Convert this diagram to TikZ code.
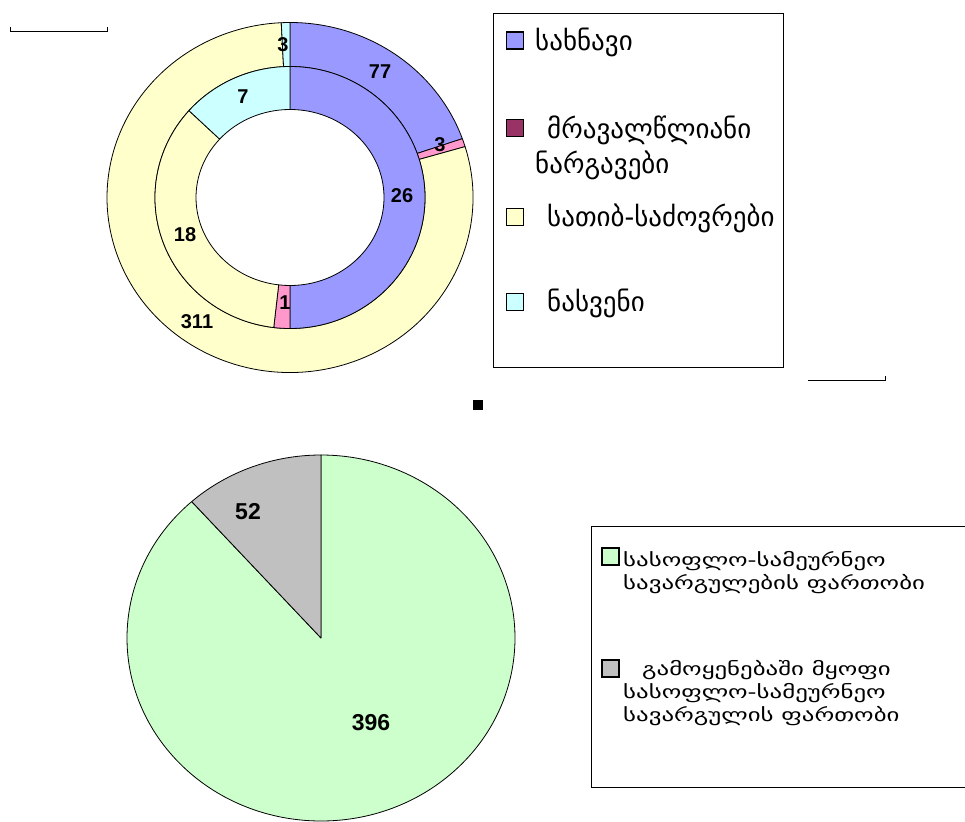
\documentclass[tikz,border=0pt]{standalone}
\usepackage{fontspec}
\setmainfont{Liberation Sans}
\newfontfamily\geofont{DejaVu Sans}
\newfontfamily\geowidefont[FakeStretch=1.38]{DejaVu Sans}
\definecolor{arable}{HTML}{9999FF}
\definecolor{perennial}{HTML}{993366}
\definecolor{perennialslice}{HTML}{FF99CC}
\definecolor{meadow}{HTML}{FFFFCC}
\definecolor{fallow}{HTML}{CCFFFF}
\definecolor{farmland}{HTML}{CCFFCC}
\definecolor{inuse}{HTML}{C0C0C0}
\begin{document}
\begin{tikzpicture}[
            x = 1pt, y = 1pt,
            seg/.style = {draw, line width = 0.8pt, line join = round},
            outer/.style = {x radius = 183, y radius = 175},
            mid/.style = {x radius = 135, y radius = 131},
            hole/.style = {x radius = 94, y radius = 88},
            pie/.style = {x radius = 194, y radius = 183},
            key/.style = {draw, line width = 1.2pt, inner sep = 0pt, minimum size = 17pt},
            num/.style = {inner sep = 0pt, font = \fontsize{20}{24}\selectfont\bfseries},
            bignum/.style = {inner sep = 0pt, font = \fontsize{23}{27}\selectfont\bfseries},
            lbl/.style = {anchor = west, align = left, inner sep = 0pt, font = \geofont\fontsize{27}{35}\selectfont},
            lbltight/.style = {lbl, font = \geowidefont\fontsize{18}{23}\selectfont},
        ]
        \useasboundingbox (0,0) rectangle (965,-821);

        % ring chart
        \begin{scope}[shift = {(290,-197.5)}]
            \path[seg, fill = arable] (90:183 and 175) arc[start angle = 90, end angle = 19.645, outer] -- (19.645:135 and 131) arc[start angle = 19.645, end angle = 90, mid] -- cycle;
            \path[seg, fill = perennialslice] (19.645:183 and 175) arc[start angle = 19.645, end angle = 16.904, outer] -- (16.904:135 and 131) arc[start angle = 16.904, end angle = 19.645, mid] -- cycle;
            \path[seg, fill = meadow] (16.904:183 and 175) arc[start angle = 16.904, end angle = -267.258, outer] -- (-267.258:135 and 131) arc[start angle = -267.258, end angle = 16.904, mid] -- cycle;
            \path[seg, fill = fallow] (-267.258:183 and 175) arc[start angle = -267.258, end angle = -270, outer] -- (-270:135 and 131) arc[start angle = -270, end angle = -267.258, mid] -- cycle;

            \path[seg, fill = arable] (90:135 and 131) arc[start angle = 90, end angle = -90, mid] -- (-90:94 and 88) arc[start angle = -90, end angle = 90, hole] -- cycle;
            \path[seg, fill = perennialslice] (-90:135 and 131) arc[start angle = -90, end angle = -96.923, mid] -- (-96.923:94 and 88) arc[start angle = -96.923, end angle = -90, hole] -- cycle;
            \path[seg, fill = meadow] (-96.923:135 and 131) arc[start angle = -96.923, end angle = -221.538, mid] -- (-221.538:94 and 88) arc[start angle = -221.538, end angle = -96.923, hole] -- cycle;
            \path[seg, fill = fallow] (-221.538:135 and 131) arc[start angle = -221.538, end angle = -270, mid] -- (-270:94 and 88) arc[start angle = -270, end angle = -221.538, hole] -- cycle;
        \end{scope}

        \node (v77) [num] at (380,-72) {77};
        \node (v3a) [num] at (283,-45) {3};
        \node (v3b) [num] at (440,-145) {3};
        \node (v311) [num] at (197,-322) {311};
        \node (v26) [num] at (402,-196) {26};
        \node (v1) [num] at (285,-303) {1};
        \node (v18) [num] at (185,-235) {18};
        \node (v7) [num] at (243,-97) {7};

        % legend of the ring chart
        \draw[line width = 1pt] (493,-14) rectangle (783,-367);
        \node (k1) [key, fill = arable] at (515,-40.5) {};
        \node (k2) [key, fill = perennial] at (515,-128) {};
        \node (k3) [key, fill = meadow] at (515,-217) {};
        \node (k4) [key, fill = fallow] at (515,-302) {};
        \node (t1) [lbl] at (535,-42) {სახნავი};
        \node (t2) [lbl] at (535,-147.5) {\hspace*{12pt}მრავალწლიანი\\ნარგავები};
        \node (t3) [lbl] at (547,-218) {სათიბ-საძოვრები};
        \node (t4) [lbl] at (547,-303) {ნასვენი};

        \draw[line width = 1pt] (10,-27) -- (10,-32) -- (107,-32) -- (107,-27);
        \draw[line width = 1pt] (808,-380) -- (885,-380) -- (885,-376);
        \node (dot) [fill, inner sep = 0pt, minimum size = 10pt] at (477.5,-404.5) {};

        % pie chart
        \begin{scope}[shift = {(321,-638)}]
            \path[seg, fill = farmland] (0,0) -- (131.8:194 and 183) arc[start angle = 131.8, end angle = 450, pie] -- cycle;
            \path[seg, fill = inuse] (0,0) -- (90:194 and 183) arc[start angle = 90, end angle = 131.8, pie] -- cycle;
        \end{scope}

        \node (v52) [bignum] at (248,-512) {52};
        \node (v396) [bignum] at (371,-723) {396};

        % legend of the pie chart
        \draw[line width = 1pt] (966,-526) -- (591,-526) -- (591,-787) -- (966,-787);
        \node (k5) [key, fill = farmland] at (610.5,-556.5) {};
        \node (k6) [key, fill = inuse] at (610.5,-668.5) {};
        \node (t5) [lbltight] at (623,-573) {სასოფლო-სამეურნეო\\სავარგულების ფართობი};
        \node (t6) [lbltight] at (623,-693) {\hspace*{19pt}გამოყენებაში მყოფი\\სასოფლო-სამეურნეო\\სავარგულის ფართობი};
    \end{tikzpicture}
\end{document}
